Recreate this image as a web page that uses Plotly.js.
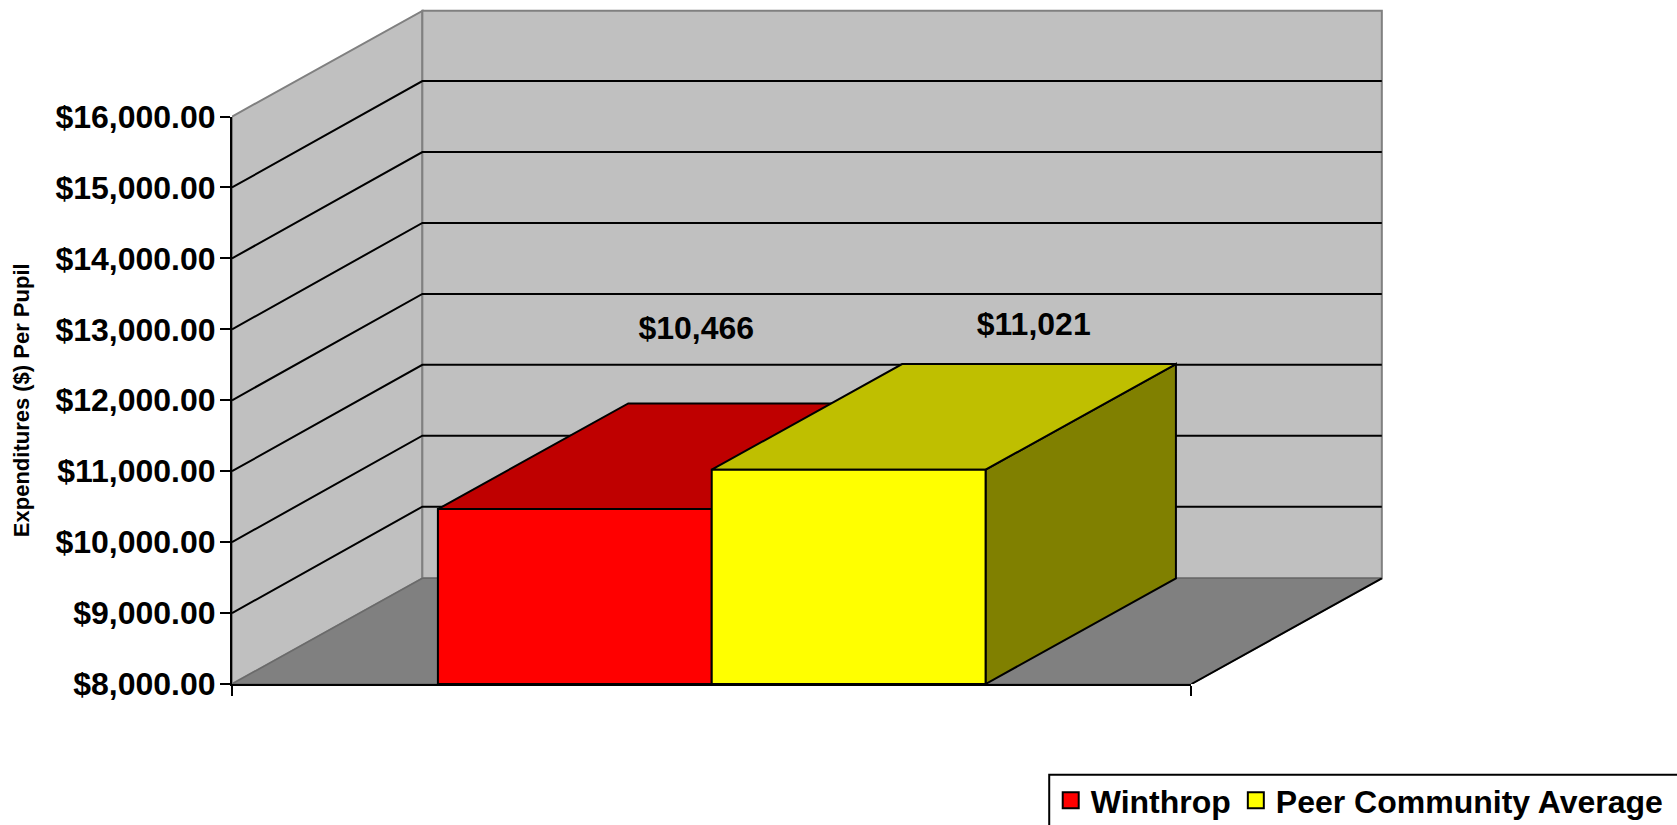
<!DOCTYPE html>
<html>
<head>
<meta charset="utf-8">
<script src="https://cdn.plot.ly/plotly-3.0.1.min.js"></script>
<style>html,body{margin:0;padding:0;background:#fff;overflow:hidden}</style>
</head>
<body>
<div id="chart" style="width:1677px;height:825px"></div>
<script>
// ---- data ----
const seriesNames = ['Winthrop', 'Peer Community Average'];
const seriesValues = [10466, 11021];
const valueLabels = ['$10,466', '$11,021'];
const tickValues = [8000, 9000, 10000, 11000, 12000, 13000, 14000, 15000, 16000];
const tickLabels = ['$8,000.00', '$9,000.00', '$10,000.00', '$11,000.00', '$12,000.00', '$13,000.00', '$14,000.00', '$15,000.00', '$16,000.00'];
const yTitle = 'Expenditures ($) Per Pupil';

// ---- styles / layout constants ----
const frontColors = ['#FF0000', '#FFFF00'];
const topColors = ['#BF0000', '#BFBF00'];
const sideColors = ['#800000', '#808000'];
const labelX = [0.4839, 0.8356];
const labelY = [12972, 13028];
const barWidth = 0.2854, barStart = 0.2146;
const depthX = 0.1984, depthY = 1490, gridDepthY = 1500;
const L = 231.5, R = 1191.3, T = 116.5, B = 683.7;
const W = 1677, H = 825;
const yMin = 8000, yMax = 16000;
const font = 'Liberation Sans, Arial, sans-serif';
// the drawing axes share the visible axes' scale, but span the full area so the 3D depth is not clipped
const plotW = W - L;
const xFull = plotW / (R - L);
const yFull = yMin + (yMax - yMin) * B / (B - T);
const px = p => (p - L) / plotW;
const py = p => (B - p) / B;

const poly = (xs, ys, fill, line, w) => ({
  type: 'scatter', mode: 'lines', x: xs.concat(xs[0]), y: ys.concat(ys[0]),
  fill: 'toself', fillcolor: fill, line: {color: line, width: w},
  showlegend: false, hoverinfo: 'skip'
});
const seg = (xs, ys, color, w) => ({
  type: 'scatter', mode: 'lines', x: xs, y: ys, line: {color: color, width: w},
  showlegend: false, hoverinfo: 'skip'
});

const traces = [];

// legend entries (markers sit on each bar, covered by the 3D faces drawn later)
seriesNames.forEach((name, i) => traces.push({
  type: 'scatter', mode: 'markers', name: name,
  x: [barStart + barWidth * (i + 0.5)], y: [(seriesValues[i] + yMin) / 2],
  marker: {symbol: 'square', size: 16, color: frontColors[i], line: {color: '#000', width: 2}},
  hoverinfo: 'skip'
}));

// walls and floor
traces.push(poly([0, depthX, depthX, 0], [yMin, yMin + depthY, yMax + depthY, yMax], '#C0C0C0', '#808080', 2));
traces.push(poly([depthX, 1 + depthX, 1 + depthX, depthX], [yMin + depthY, yMin + depthY, yMax + depthY, yMax + depthY], '#C0C0C0', '#808080', 2));
traces.push(poly([0, 1, 1 + depthX, depthX], [yMin, yMin, yMin + depthY, yMin + depthY], '#808080', '#6a6a6a', 1.5));
traces.push(seg([1, 1 + depthX], [yMin, yMin + depthY], '#000', 2));

// gridlines across side wall and back wall
tickValues.slice(1, -1).forEach(v => {
  traces.push(seg([0, depthX, 1 + depthX], [v, v + gridDepthY, v + gridDepthY], '#000', 2));
});

// 3D bars
seriesValues.forEach((v, i) => {
  const x0 = barStart + barWidth * i, x1 = x0 + barWidth;
  traces.push(poly([x1, x1 + depthX, x1 + depthX, x1], [yMin, yMin + depthY, v + depthY, v], sideColors[i], '#000', 2));
  traces.push(poly([x0, x1, x1 + depthX, x0 + depthX], [v, v, v + depthY, v + depthY], topColors[i], '#000', 2));
  traces.push(poly([x0, x1, x1, x0], [yMin, yMin, v, v], frontColors[i], '#000', 2));
});

// value labels, on the visible axes
traces.push({
  type: 'scatter', mode: 'text', x: labelX, y: labelY, xaxis: 'x2', yaxis: 'y2', text: valueLabels,
  textposition: 'middle center',
  textfont: {family: font, size: 32, color: '#000', weight: 700},
  showlegend: false, hoverinfo: 'skip', cliponaxis: false
});

const layout = {
  width: W, height: H,
  margin: {l: L, r: 0, t: 0, b: H - B, pad: 0, autoexpand: false},
  paper_bgcolor: '#fff', plot_bgcolor: 'rgba(0,0,0,0)',
  font: {family: font, color: '#000'},
  showlegend: true,
  legend: {
    orientation: 'h', x: px(1050.5), y: py(772.5), xanchor: 'left', yanchor: 'top',
    bgcolor: 'rgba(0,0,0,0)', borderwidth: 0,
    font: {family: font, size: 32, color: '#000', weight: 700}
  },
  xaxis: {domain: [0, 1], range: [0, xFull], visible: false, fixedrange: true},
  yaxis: {domain: [0, 1], range: [yMin, yFull], visible: false, fixedrange: true},
  xaxis2: {
    domain: [0, px(R)], anchor: 'y2',
    range: [0, 1], showgrid: false, zeroline: false, showline: true, linecolor: '#000', linewidth: 2,
    tickmode: 'array', tickvals: [0, 1], ticktext: ['', ''], ticks: 'outside', ticklen: 10, tickwidth: 2, tickcolor: '#000',
    fixedrange: true
  },
  yaxis2: {
    domain: [0, py(T)], anchor: 'x2',
    range: [yMin, yMax], showgrid: false, zeroline: false, showline: true, linecolor: '#000', linewidth: 2,
    tickmode: 'array', tickvals: tickValues, ticktext: tickLabels, ticks: 'outside', ticklen: 10, tickwidth: 2, tickcolor: '#000',
    ticklabelstandoff: -2,
    tickfont: {family: font, size: 32, color: '#000', weight: 700},
    title: {text: yTitle, font: {family: font, size: 22, color: '#000', weight: 700}, standoff: 20},
    fixedrange: true
  },
  shapes: [{
    type: 'rect', xref: 'paper', yref: 'paper', layer: 'below',
    x0: px(1049), x1: px(1720), y0: py(774.5), y1: py(860),
    line: {color: '#000', width: 2}, fillcolor: '#fff'
  }]
};

Plotly.newPlot('chart', traces, layout, {displayModeBar: false, staticPlot: true});
</script>
</body>
</html>
